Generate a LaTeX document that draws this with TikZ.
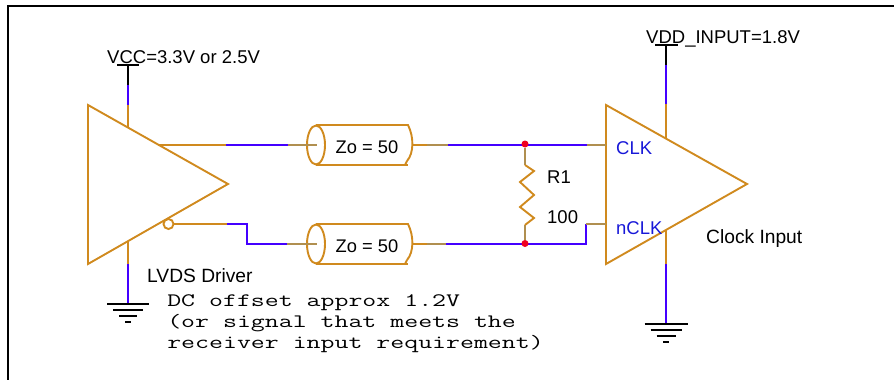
\documentclass[tikz,border=0pt]{standalone}
\usepackage{fontspec}
\setmainfont{Liberation Sans}
\definecolor{part}{HTML}{D08A1E}
\definecolor{wire}{HTML}{4400FF}
\definecolor{stub}{HTML}{B08F50}
\definecolor{pinblue}{HTML}{1818D8}
\definecolor{junc}{HTML}{F00020}
\tikzset{
  x=1pt,y=-1pt,
  partline/.style={draw=part,line width=1.9pt,line join=miter},
  wireline/.style={draw=wire,line width=1.9pt},
  stubline/.style={draw=stub,line width=1.9pt},
  railline/.style={draw=black,line width=1.7pt},
  label/.style={inner sep=0pt,anchor=base west,font=\fontsize{18.5}{20}\selectfont},
  widelabel/.style={label,font=\fontsize{19.2}{20}\selectfont},
  pinlabel/.style={label,text=pinblue},
  junction/.style={circle,fill=junc,inner sep=0pt,minimum size=7pt},
  monotext/.style={inner sep=0pt,anchor=north west,align=left,xscale=1.425,transform shape,
     font=\ttfamily\fontsize{19}{21.3}\selectfont},
  coaxtext/.style={inner sep=0pt,font=\fontsize{18.3}{20}\selectfont},
}
\newcommand{\gnd}[3]{% x, y, half width
  \draw[railline] (#1-#3,#2) -- (#1+#3,#2);
  \draw[railline] (#1-#3+6,#2+6) -- (#1+#3-6,#2+6);
  \draw[railline] (#1-#3+12,#2+12) -- (#1+#3-12,#2+12);
  \draw[railline] (#1-3,#2+18) -- (#1+3,#2+18);
}
\newcommand{\coax}[3]{% x, y, name
  \draw[partline] (#1,#2) ellipse [x radius=9,y radius=19.5];
  \draw[partline] (#1,#2-20) -- (#1+92,#2-20) .. controls (#1+98,#2-8) and (#1+98,#2+8) .. (#1+91,#2+16);
  \draw[partline] (#1,#2+20) -- (#1+92,#2+20);
  \draw[partline] (#1+89,#2+20) -- (#1+91,#2+16);
  \node[coaxtext] (#3) at (#1+51,#2+2) {Zo = 50};
}
\begin{document}
\begin{tikzpicture}
\useasboundingbox (0,0) rectangle (894,380);
% frame
\draw[black,line width=1.8pt] (8,380) -- (8,6) -- (894,6);
% driver and receiver
\coordinate (da) at (88,105); \coordinate (db) at (228,184); \coordinate (dc) at (88,264);
\coordinate (ra) at (606,105); \coordinate (rb) at (747,184); \coordinate (rc) at (606,264);
\draw[partline] (da) -- (db) -- (dc) -- cycle;
\draw[partline] (ra) -- (rb) -- (rc) -- cycle;
% driver supply
\coordinate (vccbar) at (128,65); \coordinate (vccj) at (128,85); \coordinate (vccs) at (128,105); \coordinate (vccp) at (128,127.5);
\draw[railline] (117,65) -- (139,65);
\draw[railline] (vccbar) -- (vccj);
\draw[wireline] (vccj) -- (vccs);
\draw[partline] (vccs) -- (vccp);
% driver ground
\coordinate (dgp) at (128,242); \coordinate (dgs) at (128,264); \coordinate (dgg) at (128,304);
\draw[partline] (dgp) -- (dgs);
\draw[wireline] (dgs) -- (dgg);
\gnd{128}{304}{21}
% receiver supply
\coordinate (vddbar) at (666,45); \coordinate (vddj) at (666,65); \coordinate (vdds) at (666,104); \coordinate (vddp) at (666,139);
\draw[railline] (655,45) -- (678,45);
\draw[railline] (vddbar) -- (vddj);
\draw[wireline] (vddj) -- (vdds);
\draw[partline] (vdds) -- (vddp);
% receiver ground
\coordinate (rgp) at (666,230); \coordinate (rgs) at (666,264); \coordinate (rgg) at (666,324);
\draw[partline] (rgp) -- (rgs);
\draw[wireline] (rgs) -- (rgg);
\gnd{666}{324}{21.5}
% coax
\coax{316}{145}{zt}
\coax{316}{244}{zb}
% top line
\coordinate (o1) at (158,145); \coordinate (o2) at (226,145); \coordinate (o3) at (288,145); \coordinate (o4) at (317,145);
\coordinate (o5) at (413,145); \coordinate (o6) at (427,145); \coordinate (o7) at (448,145);
\coordinate (o8) at (587,145); \coordinate (o9) at (606,145);
\draw[partline] (o1) -- (o2);
\draw[wireline] (o2) -- (o3);
\draw[stubline] (o3) -- (o4);
\draw[partline] (o5) -- (o6);
\draw[stubline] (o6) -- (o7);
\draw[wireline] (o7) -- (o8);
\draw[stubline] (o8) -- (o9);
% bubble and lower line
\node[circle,draw=part,line width=1.9pt,inner sep=0pt,minimum size=10pt] (bub) at (168.5,224) {};
\coordinate (u2) at (227,224); \coordinate (u3) at (247,224); \coordinate (u4) at (247,244); \coordinate (u5) at (287,244); \coordinate (u6) at (317,244);
\draw[partline] (bub.east) -- (u2);
\draw[wireline] (u2) -- (u3) -- (u4) -- (u5);
\draw[stubline] (u5) -- (u6);
\coordinate (l1) at (413,244); \coordinate (l2) at (427,244); \coordinate (l3) at (446,244);
\coordinate (l4) at (586,244); \coordinate (l5) at (586,224); \coordinate (l6) at (606,224);
\draw[partline] (l1) -- (l2);
\draw[stubline] (l2) -- (l3);
\draw[wireline] (l3) -- (l4) -- (l5);
\draw[stubline] (l5) -- (l6);
% resistor
\node[junction] (jt) at (525,144) {};
\node[junction] (jb) at (525,243.5) {};
\coordinate (r1) at (525,165); \coordinate (r2) at (525,225);
\draw[stubline] (jt) -- (r1);
\draw[stubline] (r2) -- (jb);
\draw[partline] (r1) -- (534,171) -- (520,182) -- (534,195) -- (520,207) -- (534,218) -- (r2);
% labels
\node[label] (vcc) at (107,63) {VCC=3.3V or 2.5V};
\node[label] (vdd) at (646,43) {VDD\_INPUT=1.8V};
\node[label] (r1t) at (547,183) {R1};
\node[label] (r1v) at (547,223) {100};
\node[pinlabel] (clk) at (616,154) {CLK};
\node[pinlabel] (nclk) at (616,234) {nCLK};
\node[widelabel] (ci) at (706,243) {Clock Input};
\node[widelabel] (lvds) at (147,282) {LVDS Driver};
\node[monotext] (note) at (167,294) {DC offset approx 1.2V\\(or signal that meets the\\receiver input requirement)};
\end{tikzpicture}
\end{document}
